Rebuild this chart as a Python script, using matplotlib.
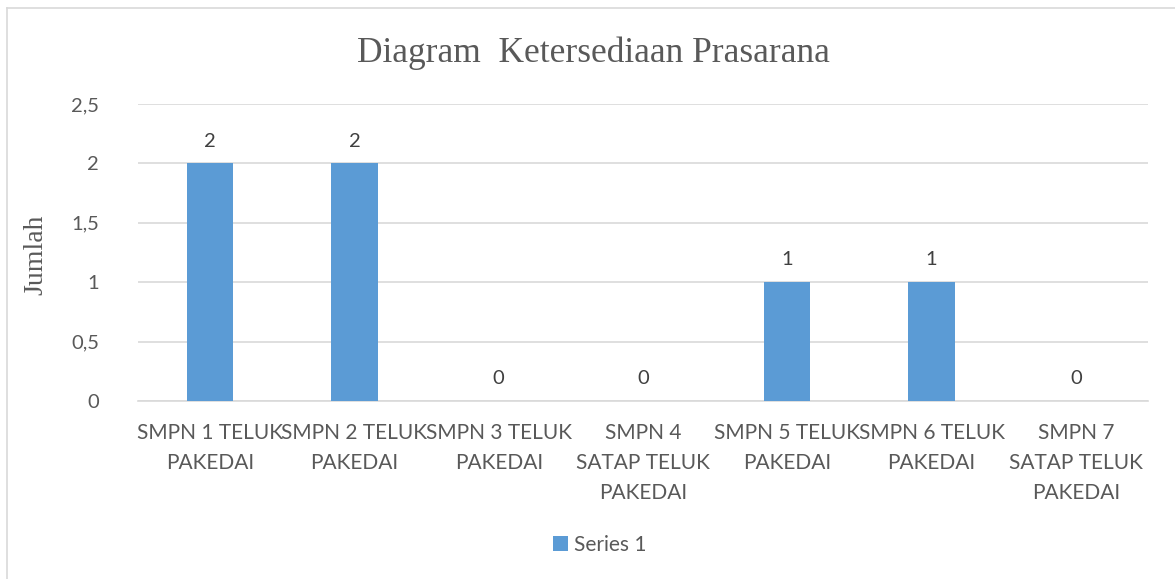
import matplotlib
matplotlib.use("Agg")
import matplotlib.pyplot as plt
from matplotlib.lines import Line2D

categories = ["SMPN 1 TELUK\nPAKEDAI", "SMPN 2 TELUK\nPAKEDAI", "SMPN 3 TELUK\nPAKEDAI",
              "SMPN 4\nSATAP TELUK\nPAKEDAI", "SMPN 5 TELUK\nPAKEDAI", "SMPN 6 TELUK\nPAKEDAI",
              "SMPN 7\nSATAP TELUK\nPAKEDAI"]
values = [2, 2, 0, 0, 1, 1, 0]
yticks = [0, 0.5, 1, 1.5, 2, 2.5]
ytick_labels = ["0", "0,5", "1", "1,5", "2", "2,5"]
series_name = "Series 1"
title = "Diagram  Ketersediaan Prasarana"
ylabel = "Jumlah"

W, H = 1175, 579
fig = plt.figure(figsize=(W / 100, H / 100), dpi=100)
# chart border (left and top visible)
fig.lines.append(Line2D([6.5 / W, 6.5 / W], [0, 1 - 8 / H], transform=fig.transFigure,
                        color="#d9d9d9", linewidth=1.2))
fig.lines.append(Line2D([6.5 / W, 1], [1 - 8 / H, 1 - 8 / H], transform=fig.transFigure,
                        color="#d9d9d9", linewidth=1.2))

ax = fig.add_axes([138 / W, 1 - 401 / H, (1148 - 138) / W, (401 - 104) / H])
sans = "Lato"
gray = "#595959"
x = list(range(len(categories)))
bars = ax.bar(x, values, width=0.32, color="#5b9bd5", label=series_name, zorder=3)
ax.set_xlim(-0.5, len(categories) - 0.5)
ax.set_ylim(0, 2.5)
ax.set_yticks(yticks)
ax.set_yticklabels(ytick_labels, fontsize=14.5, color=gray, family=sans)
ax.set_xticks(x)
ax.set_xticklabels(categories, fontsize=15, color=gray, family=sans, linespacing=1.62)
ax.tick_params(axis="both", length=0)
ax.tick_params(axis="x", pad=16)
ax.tick_params(axis="y", pad=28)
ax.grid(axis="y", color="#d9d9d9", linewidth=1.2, zorder=0)
for s in ["top", "right", "left"]:
    ax.spines[s].set_visible(False)
ax.spines["bottom"].set_color("#d9d9d9")
ax.spines["bottom"].set_linewidth(1.2)

for xi, v in zip(x, values):
    ax.annotate(str(v), (xi, v), xytext=(0, 10), textcoords="offset points",
                ha="center", va="bottom", fontsize=14.5, color="#404040", family=sans)

fig.text(593 / W, 1 - 53 / H, title, ha="center", va="center", fontsize=25.5,
         color=gray, family="Liberation Serif")
fig.text(36 / W, 1 - 255 / H, ylabel, ha="center", va="center", rotation=90,
         fontsize=20, color=gray, family="Liberation Serif")

leg = fig.legend(handles=[bars], labels=[series_name], loc="center",
                 bbox_to_anchor=(600 / W, 1 - 545 / H), frameon=False,
                 prop={"family": sans, "size": 15}, handlelength=0.7, handleheight=0.7,
                 handletextpad=0.3)
for t in leg.get_texts():
    t.set_color(gray)

fig.savefig("out.png", dpi=100)
